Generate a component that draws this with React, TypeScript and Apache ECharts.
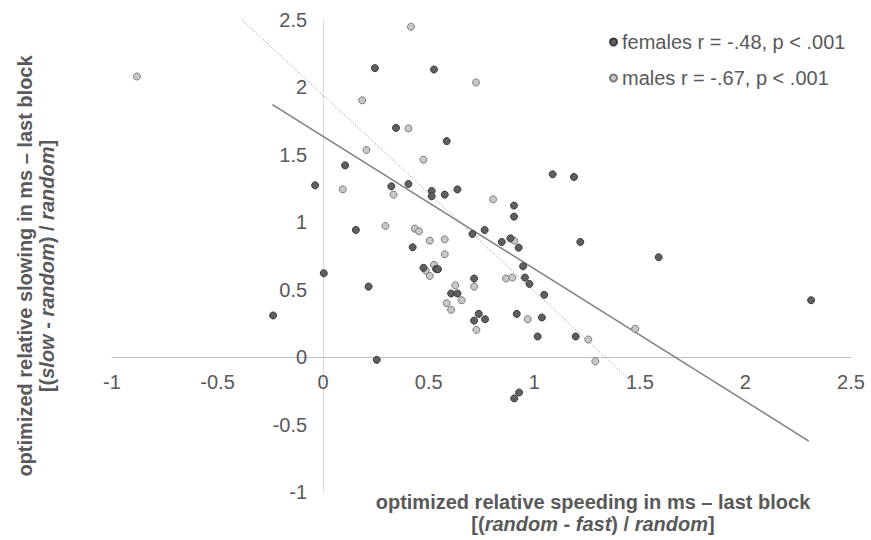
import React, { useEffect, useRef } from "react";
import * as echarts from "echarts";

// Data
const females: [number, number][] = [
  [0.245, 2.143], [0.525, 2.133], [0.345, 1.70], [0.585, 1.602], [0.104, 1.422],
  [0.323, 1.267], [0.404, 1.284], [0.514, 1.232], [0.514, 1.193], [0.576, 1.205],
  [0.636, 1.244], [1.087, 1.356], [1.188, 1.336], [0.904, 1.124], [0.904, 1.042],
  [0.155, 0.943], [0.765, 0.943], [0.707, 0.913], [0.846, 0.854], [0.887, 0.881],
  [0.926, 0.812], [1.218, 0.854], [0.424, 0.815], [0.947, 0.674], [0.475, 0.662],
  [0.535, 0.654], [0.544, 0.652], [0.715, 0.583], [0.956, 0.590], [0.977, 0.543],
  [1.047, 0.462], [0.215, 0.523], [0.606, 0.472], [0.636, 0.472], [0.737, 0.321],
  [0.715, 0.271], [0.767, 0.281], [0.917, 0.321], [1.036, 0.294], [1.016, 0.153],
  [1.196, 0.153], [0.254, -0.02], [1.589, 0.741], [2.311, 0.422], [0.928, -0.262],
  [0.905, -0.306], [-0.038, 1.274], [0.003, 0.622], [-0.237, 0.309],
];

const males: [number, number][] = [
  [0.416, 2.45], [0.724, 2.037], [0.185, 1.904], [0.404, 1.696], [0.205, 1.536],
  [0.475, 1.464], [0.093, 1.244], [0.333, 1.205], [0.805, 1.17], [0.295, 0.973],
  [0.434, 0.953], [0.454, 0.933], [0.505, 0.864], [0.576, 0.874], [0.905, 0.864],
  [0.576, 0.763], [0.525, 0.684], [0.486, 0.642], [0.505, 0.602], [0.715, 0.523],
  [0.866, 0.583], [0.896, 0.59], [0.626, 0.533], [0.656, 0.422], [0.585, 0.4],
  [0.606, 0.351], [0.726, 0.202], [0.969, 0.281], [1.256, 0.131], [1.289, -0.03],
  [1.478, 0.21], [-0.882, 2.081],
];

// Linear trend lines (end points)
const femaleTrend: [number, number][] = [[-0.24, 1.873], [2.3, -0.622]];
const maleTrend: [number, number][] = [[-0.9, 3.25], [1.46, -0.18]];

const legendNames = ["females r = -.48, p < .001", "males r = -.67, p < .001"];
const axisMin = -1;
const axisMax = 2.5;
const axisStep = 0.5;

const FONT = "'Liberation Sans', Arial, sans-serif";
const TEXT = "#595959";

const W = 871;
const H = 540;
const GRID = { left: 112, right: 20, top: 20, bottom: 48 };

export default function App() {
  const ref = useRef<HTMLDivElement>(null);

  useEffect(() => {
    if (!ref.current) return;
    const chart = echarts.init(ref.current, undefined, { renderer: "svg" });
    const plotW = W - GRID.left - GRID.right;
    const plotH = H - GRID.top - GRID.bottom;
    // shift axes so that they cross at the origin (0, 0)
    const yAxisOffset = -((0 - axisMin) / (axisMax - axisMin)) * plotW;
    const xAxisOffset = -((0 - axisMin) / (axisMax - axisMin)) * plotH;
    const bold = { fontWeight: "bold", fontSize: 20, fontFamily: FONT, fill: TEXT, color: TEXT, lineHeight: 22 };
    const boldItalic = { ...bold, fontStyle: "italic" };
    chart.setOption({
      animation: false,
      textStyle: { fontFamily: FONT },
      grid: { ...GRID, containLabel: false },
      legend: {
        orient: "vertical",
        left: 604,
        top: 27,
        itemGap: 16,
        itemWidth: 7,
        itemHeight: 7,
        icon: "circle",
        data: legendNames,
        textStyle: { fontSize: 20, color: TEXT, fontFamily: FONT, lineHeight: 20 },
      },
      xAxis: {
        type: "value",
        min: axisMin,
        max: axisMax,
        interval: axisStep,
        position: "bottom",
        offset: xAxisOffset,
        axisLine: { onZero: false, lineStyle: { color: "#bfbfbf", width: 1 } },
        axisTick: { show: false },
        splitLine: { show: false },
        axisLabel: { fontSize: 20, color: TEXT, fontFamily: FONT, margin: 15 },
      },
      yAxis: {
        type: "value",
        min: axisMin,
        max: axisMax,
        interval: axisStep,
        position: "left",
        offset: yAxisOffset,
        axisLine: { show: true, onZero: false, lineStyle: { color: "#d9d9d9", width: 1 } },
        axisTick: { show: false },
        splitLine: { show: false },
        axisLabel: { fontSize: 20, color: TEXT, fontFamily: FONT, margin: 16 },
      },
      series: [
        {
          name: "femalesTrend",
          type: "line",
          data: femaleTrend,
          showSymbol: false,
          symbol: "none",
          lineStyle: { color: "#7f7f7f", width: 1.5 },
          z: 1,
          silent: true,
        },
        {
          name: "malesTrend",
          type: "line",
          data: maleTrend,
          showSymbol: false,
          symbol: "none",
          clip: true,
          lineStyle: { color: "#8c8c8c", width: 1, type: [1, 2] },
          z: 1,
          silent: true,
        },
        {
          name: legendNames[1],
          type: "scatter",
          data: males,
          symbol: "circle",
          symbolSize: 7,
          itemStyle: { color: "#c8c8c8", borderColor: "#7a7a7a", borderWidth: 1, opacity: 1 },
          z: 3,
        },
        {
          name: legendNames[0],
          type: "scatter",
          data: females,
          symbol: "circle",
          symbolSize: 7,
          itemStyle: { color: "#5f5f5f", borderColor: "#3a3a3a", borderWidth: 1, opacity: 1 },
          z: 4,
        },
      ],
      graphic: [
        {
          type: "text",
          x: 593,
          y: 513,
          style: {
            text: "{b|optimized relative speeding in ms – last block}\n{b|[(}{bi|random}{b| - }{bi|fast}{b|) / }{bi|random}{b|]}",
            rich: { b: bold, bi: boldItalic },
            align: "center",
            verticalAlign: "middle",
            textAlign: "center",
            textVerticalAlign: "middle",
            fill: TEXT,
            font: `bold 20px ${FONT}`,
          },
        },
        {
          type: "text",
          x: 36,
          y: 266,
          rotation: Math.PI / 2,
          style: {
            text: "{b|optimized relative slowing in ms – last block}\n{b|[(}{bi|slow}{b| - }{bi|random}{b|) / }{bi|random}{b|]}",
            rich: { b: bold, bi: boldItalic },
            align: "center",
            verticalAlign: "middle",
            textAlign: "center",
            textVerticalAlign: "middle",
            fill: TEXT,
            font: `bold 20px ${FONT}`,
          },
        },
      ],
    });
    return () => chart.dispose();
  }, []);

  return (
    <div
      ref={ref}
      style={{ position: "fixed", left: 0, top: 0, width: W, height: H, background: "#fff" }}
    />
  );
}
